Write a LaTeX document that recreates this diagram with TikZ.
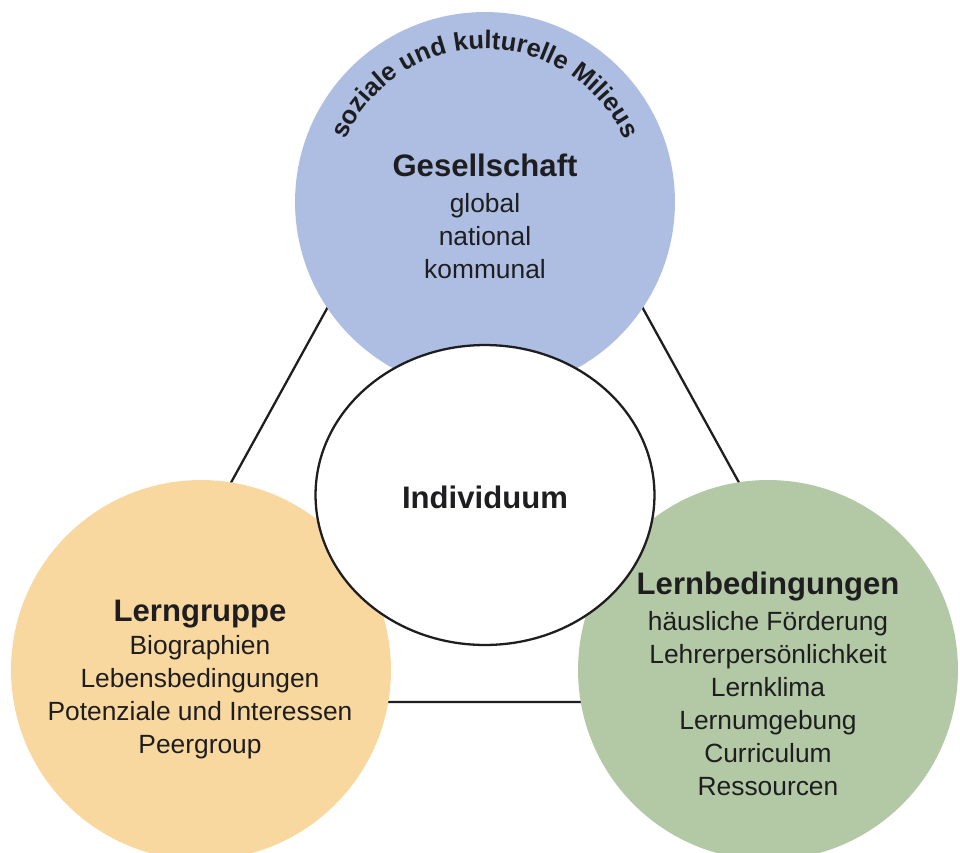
\documentclass[tikz,border=0pt]{standalone}
\usepackage{fontspec}
\setmainfont{Liberation Sans}
\usetikzlibrary{shapes.geometric,decorations.text}

\definecolor{gesBlue}{RGB}{174,190,226}
\definecolor{grpOrange}{RGB}{249,216,159}
\definecolor{bedGreen}{RGB}{179,200,164}
\definecolor{inkGray}{RGB}{30,30,32}

\newcommand{\headfont}{\fontsize{17.7}{18.8}\selectfont\bfseries}
\newcommand{\itemfont}{\fontsize{15}{18.8}\selectfont}

\tikzset{
    sphere/.style={circle, minimum size=7.6cm, inner sep=0pt},
    itemtext/.style={align=center, anchor=north, inner sep=0pt, text=inkGray, font=\itemfont},
    linkline/.style={line width=1.3pt, draw=inkGray}
}

\begin{document}
\begin{tikzpicture}[x=0.02cm, y=-0.02cm]
    % Background and frame (pixel units, y downwards)
    \fill[white] (0,0) rectangle (960,852);
    \useasboundingbox (0,0) rectangle (960,852);
    \clip (0,0) rectangle (960,852);

    % Triangle behind the spheres
    \coordinate (topCorner) at (485,22);
    \coordinate (leftCorner) at (110,702);
    \coordinate (rightCorner) at (860,702);
    \draw[linkline] (topCorner) -- (leftCorner) -- (rightCorner) -- cycle;

    % Spheres
    \node[sphere, fill=gesBlue] (gesellschaft) at (485,202) {};
    \node[sphere, fill=grpOrange] (lerngruppe) at (201,670) {};
    \node[sphere, fill=bedGreen] (lernbed) at (768,670) {};

    % Individuum in the middle
    \node[ellipse, draw=inkGray, line width=1.3pt, fill=white, inner sep=0pt,
          minimum width=6.78cm, minimum height=6cm] (individuum) at (485,495) {};
    \node[anchor=base, inner sep=0pt, text=inkGray, font=\headfont] (indText) at (485,508) {Individuum};

    % Arc label on Gesellschaft
    \path[decorate, decoration={text along path, text align=center,
          text={|\fontsize{14.5}{16}\selectfont\bfseries\color{inkGray}|soziale und kulturelle Milieus}}]
          (gesellschaft.center) ++(180:3.06cm) arc[start angle=180, end angle=0, radius=3.06cm];

    % Texts
    \node[itemtext] (gesText) at (485,154)
        {{\headfont Gesellschaft}\\[1.5pt]global\\national\\kommunal};
    \node[itemtext] (grpText) at (200,600)
        {{\headfont Lerngruppe}\\Biographien\\Lebensbedingungen\\Potenziale und Interessen\\Peergroup};
    \node[itemtext] (bedText) at (768,572)
        {{\headfont Lernbedingungen}\\[1.5pt]häusliche Förderung\\Lehrerpersönlichkeit\\Lernklima\\Lernumgebung\\Curriculum\\Ressourcen};
\end{tikzpicture}
\end{document}
